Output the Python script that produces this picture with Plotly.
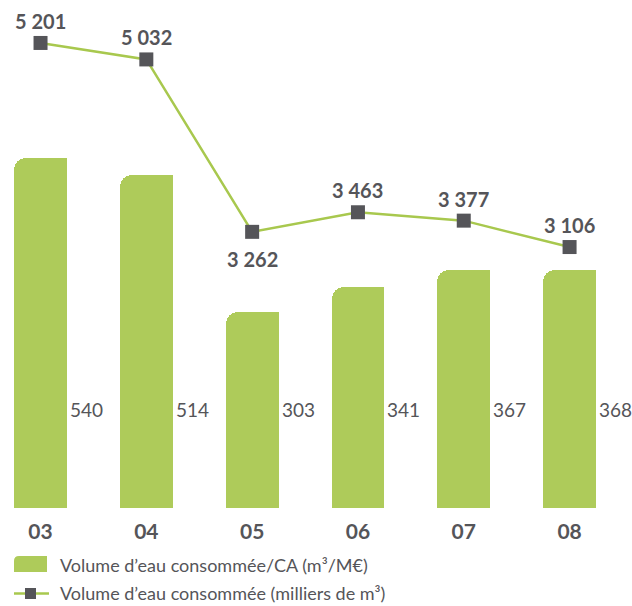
import plotly.graph_objects as go

categories = ["03", "04", "05", "06", "07", "08"]
ratio_values = [540, 514, 303, 341, 367, 368]          # m³/M€
volume_values = [5201, 5032, 3262, 3463, 3377, 3106]   # milliers de m³
volume_labels = ["5 201", "5 032", "3 262", "3 463", "3 377", "3 106"]
label_below = [False, False, True, False, False, False]
legend_bar = "Volume d\u2019eau consommée/CA (m³/M€)"
legend_line = "Volume d\u2019eau consommée (milliers de m³)"

GREEN = "#AECB5A"
LINE_GREEN = "#A8C84E"
GREY = "#555559"
FONT = "Lato"

PLOT_H = 508
xs = list(range(len(categories)))

fig = go.Figure()
# rounded-top bars
fig.add_trace(go.Bar(x=xs, y=ratio_values, width=0.5,
                     marker=dict(color=GREEN, line=dict(width=0), cornerradius=12),
                     showlegend=False, hoverinfo="skip"))
# right half without rounding -> only top-left corner is rounded
fig.add_trace(go.Bar(x=xs, y=ratio_values, width=0.25, offset=0,
                     marker=dict(color=GREEN, line=dict(width=0)),
                     showlegend=False, hoverinfo="skip"))
fig.add_trace(go.Scatter(x=xs, y=volume_values, yaxis="y2",
                         mode="lines+markers",
                         line=dict(color=LINE_GREEN, width=2.5),
                         marker=dict(symbol="square", size=14, color=GREY),
                         showlegend=False, hoverinfo="skip"))

annotations = []
for i, (v, lab, below) in enumerate(zip(volume_values, volume_labels, label_below)):
    annotations.append(dict(x=i, y=v, xref="x", yref="y2", text=lab, showarrow=False,
                            xanchor="center", yanchor="middle",
                            yshift=-27 if below else 22,
                            font=dict(family=FONT, size=20, color=GREY, weight="bold")))
for i, v in enumerate(ratio_values):
    annotations.append(dict(x=i + 0.25, y=(PLOT_H - 409) / PLOT_H, xref="x", yref="paper",
                            text=str(v), showarrow=False, xanchor="left",
                            yanchor="middle", xshift=1,
                            font=dict(family=FONT, size=19, color=GREY)))


def py(p):
    return 1 - p / PLOT_H


def px(p):
    return p / 632


# legend texts
annotations.append(dict(x=px(58), y=py(565), xref="paper", yref="paper",
                        text=legend_bar, showarrow=False, xanchor="left", yanchor="middle",
                        font=dict(family=FONT, size=18, color=GREY)))
annotations.append(dict(x=px(58), y=py(593), xref="paper", yref="paper",
                        text=legend_line, showarrow=False, xanchor="left", yanchor="middle",
                        font=dict(family=FONT, size=18, color=GREY)))

shapes = [
    dict(type="path", xref="paper", yref="paper", line=dict(width=0), fillcolor=GREEN,
         path=f"M {px(14)} {py(572)} L {px(14)} {py(561)} Q {px(14)} {py(556)} {px(19)} {py(556)} "
              f"L {px(47)} {py(556)} L {px(47)} {py(572)} Z"),
    dict(type="line", xref="paper", yref="paper", x0=px(14), x1=px(49),
         y0=py(593.5), y1=py(593.5), line=dict(color=LINE_GREEN, width=2.5)),
    dict(type="rect", xref="paper", yref="paper", x0=px(25), x1=px(36),
         y0=py(599), y1=py(588), line=dict(width=0), fillcolor=GREY),
]

fig.update_layout(
    width=632, height=606,
    margin=dict(l=0, r=0, t=0, b=606 - PLOT_H),
    paper_bgcolor="white", plot_bgcolor="white",
    barmode="overlay", bargap=0,
    showlegend=False,
    xaxis=dict(range=[-0.383, 5.59], tickmode="array", tickvals=xs, ticktext=categories,
               showgrid=False, zeroline=False, showline=False, ticks="",
               ticklabelstandoff=9,
               tickfont=dict(family=FONT, size=21, color=GREY, weight="bold")),
    yaxis=dict(range=[0, 784], visible=False, showgrid=False),
    yaxis2=dict(range=[427, 5642], overlaying="y", visible=False, showgrid=False),
    annotations=annotations,
    shapes=shapes,
)

fig.write_html("out.html", config={"displayModeBar": False},
               post_script="document.body.style.margin='0';")
